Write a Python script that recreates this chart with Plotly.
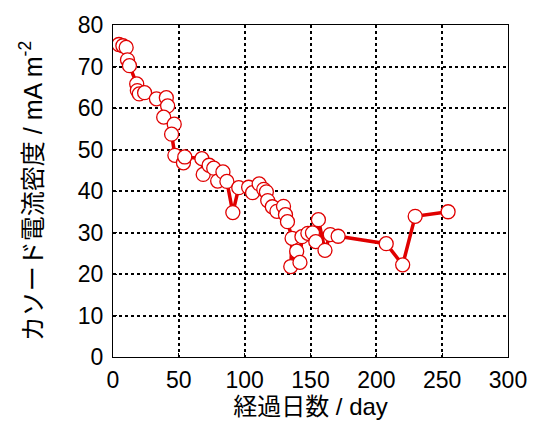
import plotly.graph_objects as go

days = [4.5, 7.5, 10, 11, 12.5, 18, 18.5, 20, 24, 33, 40.5, 41.5, 38.5, 46.5, 44.5, 47,
        53.5, 54.5, 67.5, 68.5, 73, 76.5, 79.5, 83.5, 86.5, 91, 95.5, 103, 106,
        111, 114.5, 116.5, 117.5, 121, 124.5, 129.5, 131, 132.5, 136, 135, 139.5, 142,
        143.5, 148, 151.5, 154, 156, 161, 165, 171, 207.5, 220, 229.5, 254.5]
current = [75.3, 75.0, 74.6, 71.6, 70.2, 65.8, 64.2, 63.4, 63.7, 62.2, 62.5, 60.5, 57.8, 56.1, 53.7, 48.6,
           46.8, 48.2, 47.8, 44.0, 46.2, 45.5, 42.4, 44.6, 42.3, 34.8, 40.8, 40.9, 39.6,
           41.7, 40.4, 39.8, 37.7, 36.2, 35.1, 36.3, 34.3, 32.6, 28.6, 21.8, 25.5, 22.8,
           29.0, 29.8, 29.9, 27.8, 33.1, 25.7, 29.5, 29.1, 27.3, 22.2, 33.9, 35.0]

x_ticks = [0, 50, 100, 150, 200, 250, 300]
y_ticks = [0, 10, 20, 30, 40, 50, 60, 70, 80]

FONT = "Arial, 'Liberation Sans', 'Noto Sans CJK JP', sans-serif"

fig = go.Figure()
fig.add_trace(go.Scatter(
    x=days, y=current, mode="lines+markers",
    line=dict(color="#e00000", width=3.5),
    marker=dict(size=14, color="white", line=dict(color="#e00000", width=1.3)),
    showlegend=False,
))

axis_common = dict(
    showline=True, linecolor="black", linewidth=1, mirror=True,
    showgrid=True, gridcolor="black", gridwidth=2, griddash="dot",
    zeroline=False, ticks="inside", ticklen=4, tickcolor="black",
    tickfont=dict(family=FONT, size=23, color="black"),
)

fig.update_xaxes(range=[0, 300], tickvals=x_ticks, ticklabelstandoff=2,
                 title=dict(text="経過日数 / day", font=dict(family=FONT, size=24, color="black"), standoff=1),
                 **axis_common)
fig.update_yaxes(range=[0, 80], tickvals=y_ticks, ticklabelstandoff=4,
                 title=dict(text="カソード電流密度 / mA m<sup>-2</sup>", font=dict(family=FONT, size=25, color="black"), standoff=28),
                 **axis_common)

fig.update_layout(
    width=539, height=425,
    margin=dict(l=113, r=28, t=21, b=68),
    paper_bgcolor="white", plot_bgcolor="white",
    font=dict(family=FONT),
)

fig.write_html("out.html")
